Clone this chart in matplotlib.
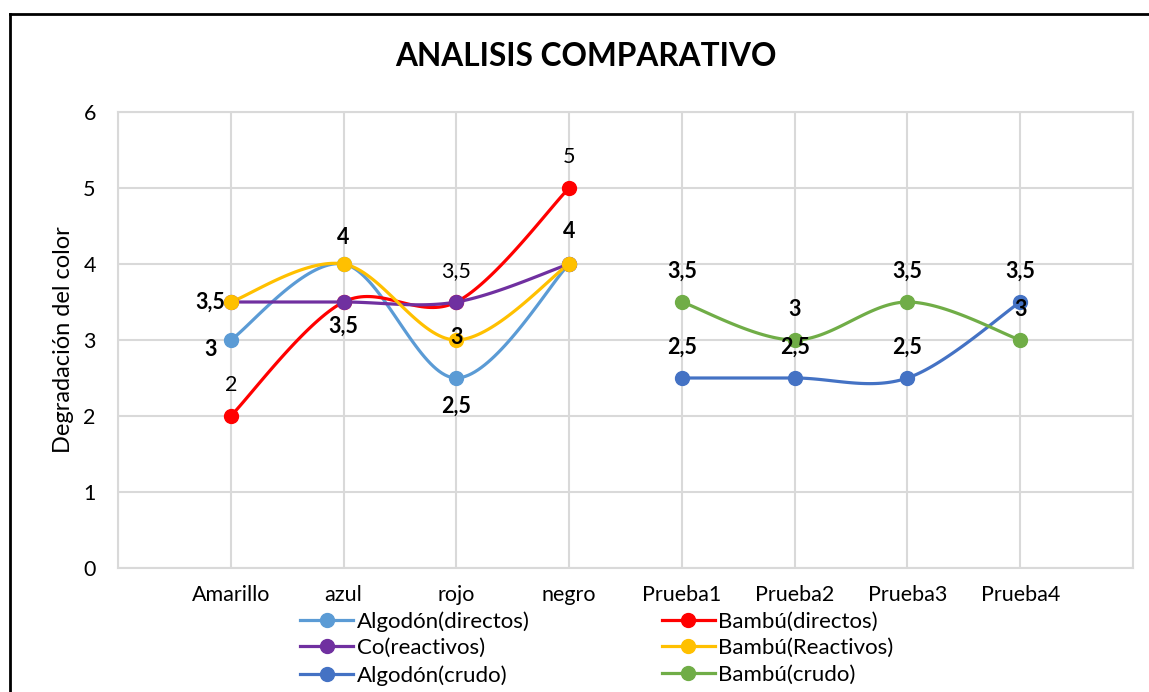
import matplotlib.pyplot as plt
from matplotlib.lines import Line2D
import numpy as np

plt.rcParams['font.family'] = ['Lato', 'DejaVu Sans']

categories = ['Amarillo', 'azul', 'rojo', 'negro', 'Prueba1', 'Prueba2', 'Prueba3', 'Prueba4']

# values per series
algodon_directos = [3, 4, 2.5, 4]
bambu_directos = [2, 3.5, 3.5, 5]
co_reactivos = [3.5, 3.5, 3.5, 4]
bambu_reactivos = [3.5, 4, 3, 4]
algodon_crudo = [2.5, 2.5, 2.5, 3.5]
bambu_crudo = [3.5, 3, 3.5, 3]

first_idx = [0, 1, 2, 3]
second_idx = [4, 5, 6, 7]

series = [
    ('Algodón(directos)', first_idx, algodon_directos, '#5B9BD5'),
    ('Bambú(directos)', first_idx, bambu_directos, '#FF0000'),
    ('Co(reactivos)', first_idx, co_reactivos, '#7030A0'),
    ('Bambú(Reactivos)', first_idx, bambu_reactivos, '#FFC000'),
    ('Algodón(crudo)', second_idx, algodon_crudo, '#4472C4'),
    ('Bambú(crudo)', second_idx, bambu_crudo, '#70AD47'),
]

# data labels shown: (series index, point index, pixel offset, bold)
labels = [
    (0, 0, (-20, -9), True), (0, 1, (0, 26), True), (0, 2, (0, -28), True), (0, 3, (0, 33), True),
    (1, 0, (0, 31), False), (1, 2, (0, 31), False), (1, 3, (0, 31), False),
    (2, 0, (-21, 0), True), (2, 1, (0, -24), True),
    (3, 2, (0, 2), True),
    (4, 0, (0, 31), True), (4, 1, (0, 31), True), (4, 2, (0, 31), True), (4, 3, (0, 31), True),
    (5, 0, (0, 31), True), (5, 1, (0, 31), True), (5, 2, (0, 31), True), (5, 3, (0, 31), True),
]


def smooth(xs, ys, n=40):
    # Excel style smoothed line (Catmull-Rom as cubic bezier)
    pts = np.column_stack([xs, ys]).astype(float)
    P = np.vstack([pts[0], pts, pts[-1]])
    out = []
    t = np.linspace(0, 1, n)[:, None]
    for i in range(len(pts) - 1):
        p0, p1, p2, p3 = P[i], P[i + 1], P[i + 2], P[i + 3]
        c1 = p1 + (p2 - p0) / 6
        c2 = p2 - (p3 - p1) / 6
        seg = ((1 - t) ** 3) * p1 + 3 * ((1 - t) ** 2) * t * c1 + 3 * (1 - t) * t ** 2 * c2 + t ** 3 * p2
        out.append(seg)
    out = np.vstack(out)
    return out[:, 0], out[:, 1]


def fmt(v):
    return ('%g' % v).replace('.', ',')


fig = plt.figure(figsize=(11.49, 6.92), dpi=100)
ax = fig.add_axes([118 / 1149, 1 - 568 / 692, (1133 - 118) / 1149, (568 - 112) / 692])

handles = []
for name, idx, vals, col in series:
    sx, sy = smooth(idx, vals)
    ax.plot(sx, sy, color=col, lw=2.3, solid_capstyle='round', zorder=3)
    ax.plot(idx, vals, 'o', color=col, ms=10, zorder=4)
    handles.append(Line2D([], [], color=col, lw=2.3, marker='o', ms=10))

for si, pi, off, bold in labels:
    name, idx, vals, col = series[si]
    ax.annotate(fmt(vals[pi]), xy=(idx[pi], vals[pi]), xytext=off, textcoords='offset pixels',
                ha='center', va='center', fontsize=15.5,
                fontweight='bold' if bold else 'normal', color='black', zorder=5)

ax.set_xlim(-1, 8)
ax.set_ylim(0, 6)
ax.set_xticks(range(-1, 9))
ax.set_xticklabels([''] + categories + [''])
ax.set_yticks(range(0, 7))
ax.tick_params(length=0, labelsize=15.5, pad=12)
ax.tick_params(axis='y', pad=16)
ax.grid(True, color='#D9D9D9', lw=1.5)
ax.set_axisbelow(True)
for s in ax.spines.values():
    s.set_color('#D9D9D9')
    s.set_linewidth(1.5)
ax.set_ylabel('Degradación del color', fontsize=17, labelpad=7)

fig.text(586 / 1149, 1 - 57 / 692, 'ANALISIS COMPARATIVO', ha='center', va='center',
         fontsize=22.8, fontweight='bold')

# legend, filled column by column
order = [0, 2, 4, 1, 3, 5]
fig.legend([handles[i] for i in order], [series[i][0] for i in order],
           loc='upper left', bbox_to_anchor=(300 / 1149, 1 - 611 / 692), ncol=2,
           frameon=False, fontsize=16, handlelength=2.4, handletextpad=0.15,
           columnspacing=5.95, labelspacing=0.3, borderaxespad=0, borderpad=0)

# chart border
fig.add_artist(Line2D([10 / 1149, 10 / 1149], [0, 1 - 14 / 692], color='black', lw=2,
                      transform=fig.transFigure))
fig.add_artist(Line2D([10 / 1149, 1], [1 - 14 / 692, 1 - 14 / 692], color='black', lw=2,
                      transform=fig.transFigure))

plt.savefig('out.png', dpi=100)
